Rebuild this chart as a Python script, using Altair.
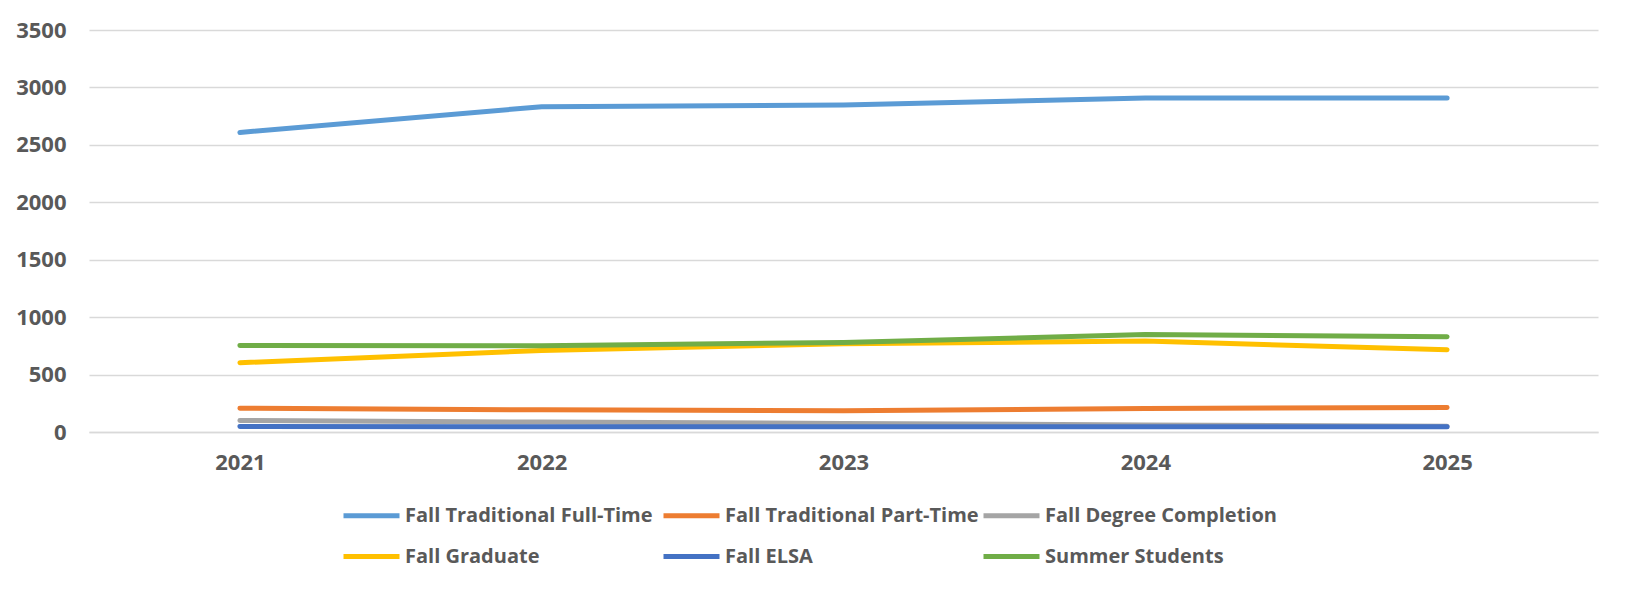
import altair as alt
import pandas as pd

years = ["2021", "2022", "2023", "2024", "2025"]
series = [
    "Fall Traditional Full-Time",
    "Fall Traditional Part-Time",
    "Fall Degree Completion",
    "Fall Graduate",
    "Fall ELSA",
    "Summer Students",
]
full_time = [2608, 2832, 2846, 2908, 2908]
part_time = [207, 193, 185, 205, 214]
degree_completion = [100, 86, 75, 62, 50]
graduate = [603, 710, 769, 792, 716]
elsa = [47, 45, 45, 45, 45]
summer = [754, 750, 780, 848, 830]
colors = ["#5B9BD5", "#ED7D31", "#A5A5A5", "#FFC000", "#4472C4", "#70AD47"]

values = [full_time, part_time, degree_completion, graduate, elsa, summer]
rows = []
for i, (name, vals) in enumerate(zip(series, values)):
    for y, v in zip(years, vals):
        rows.append({"Year": y, "Series": name, "Value": v, "idx": i})
df = pd.DataFrame(rows)

FONT = "Open Sans, sans-serif"
TXT = "#595959"

chart = (
    alt.Chart(df)
    .mark_line(strokeWidth=5, strokeCap="round", strokeJoin="round")
    .encode(
        x=alt.X(
            "Year:O",
            sort=years,
            scale=alt.Scale(type="point", padding=0.5),
            axis=alt.Axis(
                title=None,
                labelAngle=0,
                ticks=False,
                domain=True,
                domainColor="#D9D9D9",
                domainWidth=1.5,
                labelPadding=20,
                grid=False,
            ),
        ),
        y=alt.Y(
            "Value:Q",
            scale=alt.Scale(domain=[0, 3500], nice=False),
            axis=alt.Axis(
                title=None,
                values=[0, 500, 1000, 1500, 2000, 2500, 3000, 3500],
                format="d",
                ticks=False,
                domain=False,
                gridColor="#D9D9D9",
                gridWidth=1.5,
                labelPadding=23,
            ),
        ),
        color=alt.Color(
            "Series:N",
            sort=series,
            scale=alt.Scale(domain=series, range=colors),
            legend=alt.Legend(
                title=None,
                orient="none",
                direction="horizontal",
                legendX=252,
                legendY=455,
                columns=3,
                gridAlign="all",
                symbolType="M-1,0L1,0",
                symbolSize=3136,
                symbolStrokeWidth=5,
                labelOffset=3,
                columnPadding=-6,
                rowPadding=-2,
                labelLimit=400,
            ),
        ),
        order=alt.Order("idx:Q"),
    )
    .properties(width=1509, height=402, padding={"left": 81, "top": 22, "right": 19, "bottom": 155}, autosize="none")
    .configure_view(stroke=None)
    .configure_axis(labelFont=FONT, labelFontSize=22, labelFontWeight="bold", labelColor=TXT)
    .configure_legend(labelFont=FONT, labelFontSize=20, labelFontWeight="bold", labelColor=TXT)
)

chart.save("out.html", embed_options={"renderer": "svg", "actions": False})
